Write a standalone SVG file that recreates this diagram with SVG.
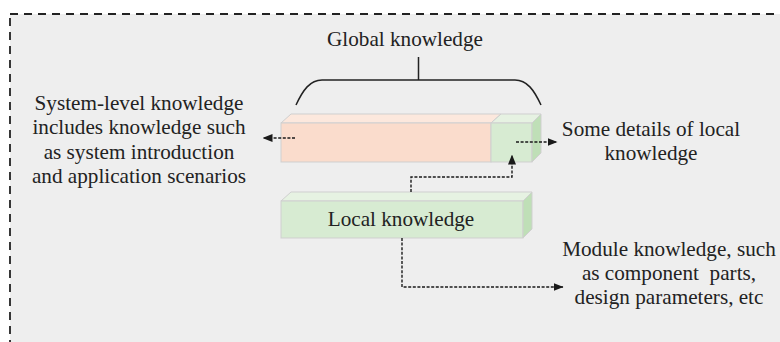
<svg xmlns="http://www.w3.org/2000/svg" width="780" height="342" viewBox="0 0 780 342">
  <defs>
    <marker id="arrow" viewBox="0 0 10 8" refX="9.5" refY="4" markerWidth="10" markerHeight="8" markerUnits="userSpaceOnUse" orient="auto">
      <path d="M0,0 L10,4 L0,8 Z" fill="#1a1a1a"/>
    </marker>
    <style>
      .txt { font-family: "Liberation Serif", "Times New Roman", serif; font-size: 21.2px; fill: #222; text-anchor: middle; white-space: pre; }
      .face { stroke: #cfcfcf; stroke-width: 1; }
      .link { fill: none; stroke: #1a1a1a; stroke-width: 1.4; stroke-dasharray: 3 1.6; marker-end: url(#arrow); }
    </style>
  </defs>

  <!-- panel -->
  <rect width="780" height="342" fill="#ffffff"/>
  <rect x="10" y="14" width="790" height="350" fill="#eeeeee" stroke="#222" stroke-width="1.8" stroke-dasharray="8 6"/>

  <!-- global knowledge label and brace -->
  <g id="global-knowledge">
    <text class="txt" x="405" y="46">Global knowledge</text>
    <path d="M418.5,57 V80 M296,105 C303,90 310,80 322,80 H515 C527,80 534,90 541,105" fill="none" stroke="#222" stroke-width="1.5"/>
  </g>

  <!-- system-level bar with local-detail segment -->
  <g id="system-bar">
    <polygon class="face" points="281,123 291,114 501,114 491,123" fill="#fce8dd"/>
    <rect class="face" x="281" y="123" width="210" height="39" fill="#fadccc"/>
  </g>
  <g id="detail-block">
    <polygon class="face" points="491,123 501,114 541,114 532,123" fill="#e6f2e2"/>
    <rect class="face" x="491" y="123" width="41" height="39" fill="#d7ebd2"/>
    <polygon class="face" points="532,123 541,114 541,153 532,162" fill="#bfdfb7"/>
  </g>

  <!-- local knowledge bar -->
  <g id="local-knowledge">
    <polygon class="face" points="281,201 291,192 532,192 523,201" fill="#e6f2e2"/>
    <rect class="face" x="281" y="201" width="242" height="37" fill="#d7ebd2"/>
    <polygon class="face" points="523,201 532,192 532,229 523,238" fill="#bfdfb7"/>
    <text class="txt" x="401" y="226">Local knowledge</text>
  </g>

  <!-- side descriptions -->
  <g id="system-text">
    <text class="txt" x="139" y="110">System-level knowledge</text>
    <text class="txt" x="139" y="134">includes knowledge such</text>
    <text class="txt" x="139" y="159">as system introduction</text>
    <text class="txt" x="139" y="183">and application scenarios</text>
  </g>
  <g id="detail-text">
    <text class="txt" x="651" y="136">Some details of local</text>
    <text class="txt" x="651" y="160">knowledge</text>
  </g>
  <g id="module-text">
    <text class="txt" x="669" y="256">Module knowledge, such</text>
    <text class="txt" x="669" y="280">as component  parts,</text>
    <text class="txt" x="669" y="304">design parameters, etc</text>
  </g>

  <!-- connectors -->
  <g id="connectors">
    <path class="link" d="M295,138 H263"/>
    <path class="link" d="M516,142 H557"/>
    <path class="link" d="M411,192 V177 H512 V155"/>
    <path class="link" d="M402,238 V287 H563"/>
  </g>
</svg>
